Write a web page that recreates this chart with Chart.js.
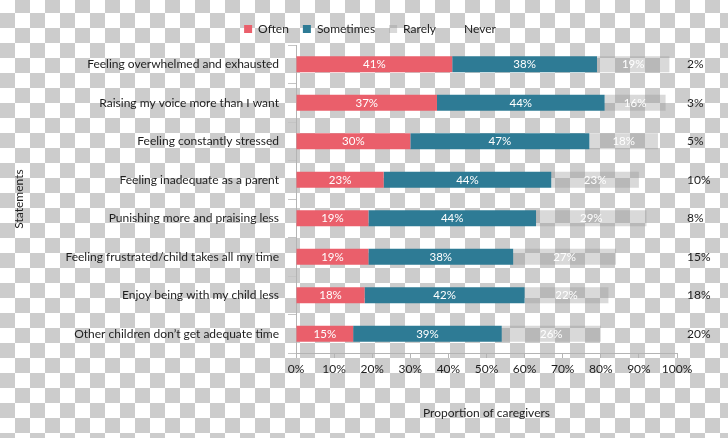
<!DOCTYPE html>
<html lang="en">
<head>
    <meta charset="utf-8" />
    <title>Caregiver statements</title>
    <script src="https://cdn.jsdelivr.net/npm/chart.js"></script>
    <style>
        html, body {
            margin: 0;
            padding: 0;
        }
        body {
            width: 728px;
            height: 438px;
            overflow: hidden;
            /* transparent-png checkerboard of the reference */
            background: repeating-conic-gradient(#cccccc 0 25%, #ffffff 0 50%);
            background-size: 30px 30px;
            background-position: 0 -2px;
        }
        #wrap {
            position: relative;
            width: 728px;
            height: 438px;
        }
    </style>
</head>

<body>
    <div id="wrap"><canvas id="chart"></canvas></div>

    <script>
        const statements = [
            'Feeling overwhelmed and exhausted',
            'Raising my voice more than I want',
            'Feeling constantly stressed',
            'Feeling inadequate as a parent',
            'Punishing more and praising less',
            'Feeling frustrated/child takes all my time',
            'Enjoy being with my child less',
            'Other children don\u2019t get adequate time'
        ];
        const often     = [41, 37, 30, 23, 19, 19, 18, 15];
        const sometimes = [38, 44, 47, 44, 44, 38, 42, 39];
        const rarely    = [19, 16, 18, 23, 29, 27, 22, 26];
        const never     = [2, 3, 5, 10, 8, 15, 18, 20];
        const xTicks    = [0, 10, 20, 30, 40, 50, 60, 70, 80, 90, 100];

        const FONT = 'Lato';
        const INK = '#1e1e1e';

        // percentage labels written in the middle of each visible segment
        const segmentLabels = {
            id: 'segmentLabels',
            afterDatasetsDraw(chart) {
                const ctx = chart.ctx;
                ctx.save();
                ctx.font = '11.5px ' + FONT;
                ctx.fillStyle = '#ffffff';
                ctx.textAlign = 'center';
                ctx.textBaseline = 'middle';
                chart.data.datasets.forEach((ds, i) => {
                    if (ds.label === 'Never') return;
                    chart.getDatasetMeta(i).data.forEach((bar, j) => {
                        ctx.fillText(ds.data[j] + '%', (bar.x + bar.base) / 2, bar.y + 0.5);
                    });
                });
                ctx.restore();
            }
        };

        new Chart(document.getElementById('chart'), {
            type: 'bar',
            data: {
                labels: statements,
                datasets: [
                    { label: 'Often', data: often, backgroundColor: '#ea5f6b', yAxisID: 'y' },
                    { label: 'Sometimes', data: sometimes, backgroundColor: '#2e7b95', yAxisID: 'y' },
                    { label: 'Rarely', data: rarely, backgroundColor: 'rgba(150,150,150,0.36)', yAxisID: 'y' },
                    { label: 'Never', data: never, backgroundColor: 'rgba(0,0,0,0)', yAxisID: 'y' }
                ]
            },
            options: {
                indexAxis: 'y',
                responsive: true,
                maintainAspectRatio: false,
                animation: false,
                barPercentage: 0.41,
                categoryPercentage: 1,
                layout: { padding: { left: 12, top: 9, right: 0, bottom: 0 } },
                plugins: {
                    tooltip: { enabled: false },
                    legend: {
                        position: 'top',
                        labels: {
                            boxWidth: 8,
                            boxHeight: 8,
                            padding: 14,
                            color: INK,
                            font: { family: FONT, size: 12 }
                        }
                    }
                },
                scales: {
                    y: {
                        stacked: true,
                        offset: true,
                        afterFit: s => { s.width = 284; },
                        grid: { drawOnChartArea: false, tickLength: 8, color: '#c4c4c4' },
                        border: { color: '#b4b4b4' },
                        ticks: { color: INK, padding: 9, font: { family: FONT, size: 12 } },
                        title: {
                            display: true,
                            text: 'Statements',
                            color: INK,
                            padding: { top: 0, bottom: 13 },
                            font: { family: FONT, size: 12 }
                        }
                    },
                    yNever: {
                        type: 'category',
                        position: 'right',
                        labels: never.map(v => v + '%'),
                        offset: true,
                        afterFit: s => { s.width = 51; },
                        grid: { display: false },
                        border: { display: false },
                        ticks: { color: INK, padding: 2, font: { family: FONT, size: 12 } }
                    },
                    x: {
                        stacked: true,
                        min: 0,
                        max: 100,
                        afterFit: s => { s.height = 85; },
                        afterBuildTicks: s => { s.ticks = xTicks.map(v => ({ value: v })); },
                        grid: { drawOnChartArea: false, tickLength: 5, color: '#b4b4b4' },
                        border: { color: '#b4b4b4' },
                        ticks: {
                            color: INK,
                            padding: 4,
                            font: { family: FONT, size: 12 },
                            callback: v => v + '%'
                        },
                        title: {
                            display: true,
                            text: 'Proportion of caregivers',
                            color: INK,
                            padding: { top: 0, bottom: 18 },
                            font: { family: FONT, size: 12 }
                        }
                    }
                }
            },
            plugins: [segmentLabels]
        });
    </script>
</body>

</html>
